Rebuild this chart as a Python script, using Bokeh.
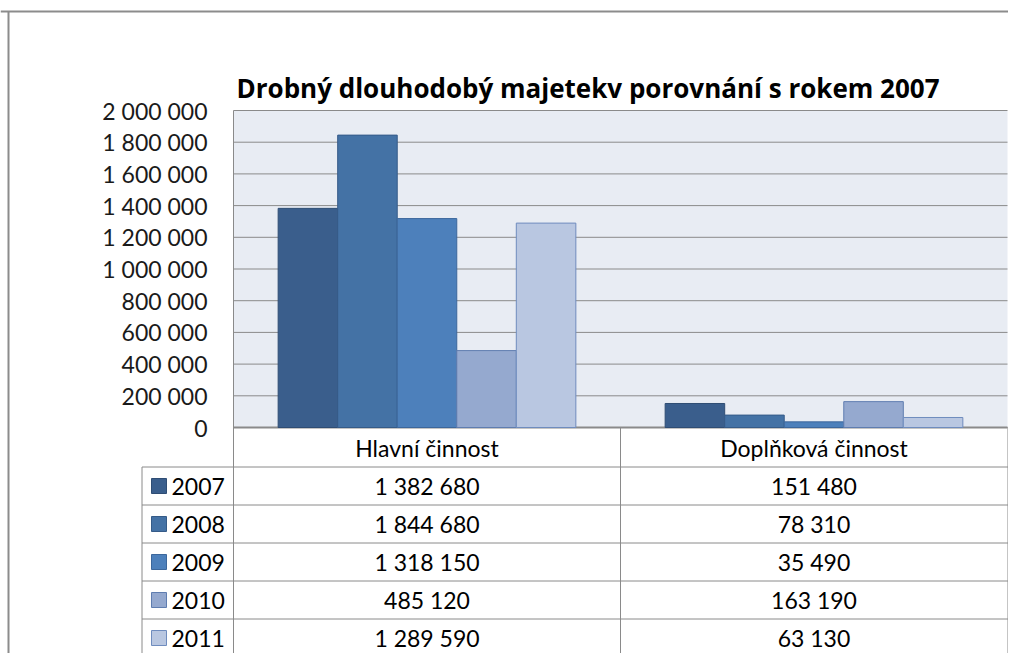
from bokeh.plotting import figure
from bokeh.models import Range1d, FixedTicker, BoxAnnotation, ColumnDataSource, LinearAxis
from bokeh.transform import dodge
from bokeh.core.properties import value
from bokeh.embed import file_html
from bokeh.resources import INLINE

# ---------------- data ----------------
title_text = "Drobný dlouhodobý  majetekv porovnání  s rokem 2007"
categories = ["Hlavní činnost", "Doplňková činnost"]
years = ["2007", "2008", "2009", "2010", "2011"]
v2007 = [1382680, 151480]
v2008 = [1844680, 78310]
v2009 = [1318150, 35490]
v2010 = [485120, 163190]
v2011 = [1289590, 63130]
y_ticks = [0, 200000, 400000, 600000, 800000, 1000000,
           1200000, 1400000, 1600000, 1800000, 2000000]
series = [v2007, v2008, v2009, v2010, v2011]

# ---------------- style ----------------
colors = ["#3A5E8C", "#4472A5", "#4D80BB", "#95A9CF", "#B9C7E1"]
outline = ["#2F4D74", "#355B88", "#3C679C", "#5F7DB0", "#6F8CBE"]
plot_bg = "#E8ECF3"
grid_c = "#8A8A8A"
FONT = "Lato"
FS = "23px"

def fmt(v):
    return f"{v:,}".replace(",", " ")

# layout helpers: pixel position inside the figure -> data coordinates
X0, CAT_W = 233.0, 387.0           # plot area left edge, width of one category
Y0, K = 427.0, 317.0 / 2000000.0   # zero line, px per unit

def ux(px):
    return (px - X0) / CAT_W

def vy(py):
    return (Y0 - py) / K

W, H = 1008, 653
p = figure(width=W, height=H, output_backend="svg", toolbar_location=None,
           x_range=Range1d(ux(0), ux(W)), y_range=Range1d(vy(H), vy(0)),
           x_axis_type=None, y_axis_type=None, title=None,
           min_border_left=0, min_border_right=0, min_border_top=0, min_border_bottom=0)
p.background_fill_color = "white"
p.border_fill_color = "white"
p.outline_line_color = None
p.grid.visible = False

# plot area background
p.add_layout(BoxAnnotation(left=0, right=len(categories), bottom=0, top=y_ticks[-1],
                           fill_color=plot_bg, fill_alpha=1, line_color=None, level="underlay"))

# horizontal gridlines
p.segment(x0=[0] * len(y_ticks), x1=[len(categories)] * len(y_ticks), y0=y_ticks, y1=y_ticks,
          line_color=grid_c, line_width=1)
p.segment(x0=[0], x1=[len(categories)], y0=[0], y1=[0], line_color=grid_c, line_width=2)

# y axis (drawn at the plot area's left edge)
yax = LinearAxis(fixed_location=0, ticker=FixedTicker(ticks=y_ticks),
                 major_label_overrides={t: fmt(t) for t in y_ticks},
                 bounds=(vy(H + 20), y_ticks[-1]))
yax.major_label_text_font = FONT
yax.major_label_text_font_size = FS
yax.major_label_text_color = "#1A1A1A"
yax.major_tick_line_color = None
yax.minor_tick_line_color = None
yax.major_tick_out = 0
yax.major_tick_in = 0
yax.minor_tick_out = 0
yax.major_label_standoff = 26
yax.axis_line_color = grid_c
p.add_layout(yax, "left")

# bars
cat_x = [ci + 0.5 for ci in range(len(categories))]
src = ColumnDataSource(dict(x=cat_x, **{y: s for y, s in zip(years, series)}))
w = 1 / 6.5
for i, (yr, c, oc) in enumerate(zip(years, colors, outline)):
    p.vbar(x=dodge("x", (i - 2) * w), top=yr, bottom=0, width=w,
           source=src, fill_color=c, line_color=oc, line_width=1)

# title
p.text(x=[ux(236)], y=[vy(87)], text=[title_text], text_font=value("Open Sans"),
       text_font_size="26px", text_font_style="bold", text_align="left",
       text_baseline="alphabetic", text_color="#000000")

# outer chart border
p.segment(x0=[ux(0), ux(8)], y0=[vy(11), vy(11)], x1=[ux(W), ux(8)], y1=[vy(11), vy(H + 10)],
          line_color="#8C8C8C", line_width=2)

# ---------------- data table ----------------
x_left, x_right = 141.5, 1007.5
head_bottom = 466.5
row_h = 38.0
bottom = H + 10
# header row separators
p.segment(x0=[1, ux(x_right)], y0=[0, 0], x1=[1, ux(x_right)], y1=[vy(bottom)] * 2,
          line_color=grid_c, line_width=1)
p.text(x=cat_x, y=[vy((Y0 + head_bottom) / 2 + 1)] * len(categories), text=categories,
       text_font=value(FONT), text_font_size=FS, text_align="center",
       text_baseline="middle", text_color="#000000")
# row lines
row_lines = [vy(head_bottom + j * row_h) for j in range(len(years))]
p.segment(x0=[ux(x_left)] * len(row_lines), y0=row_lines, x1=[ux(x_right)] * len(row_lines),
          y1=row_lines, line_color=grid_c, line_width=1)
p.segment(x0=[ux(x_left)], y0=[vy(head_bottom)], x1=[ux(x_left)], y1=[vy(bottom)],
          line_color=grid_c, line_width=1)

centers = [vy(head_bottom + (j + 0.5) * row_h) for j in range(len(years))]
p.rect(x=[ux(158.5)] * len(years), y=centers, width=15, height=15,
       width_units="screen", height_units="screen",
       fill_color=colors, line_color=outline, line_width=1)
p.text(x=[ux(171)] * len(years), y=centers, text=years, text_font=value(FONT), text_font_size=FS,
       text_align="left", text_baseline="middle", text_color="#000000")
for ci, cx in enumerate(cat_x):
    p.text(x=[cx] * len(years), y=centers, text=[fmt(s[ci]) for s in series],
           text_font=value(FONT), text_font_size=FS, text_align="center",
           text_baseline="middle", text_color="#000000")

open("out.html", "w").write(file_html(p, INLINE))
